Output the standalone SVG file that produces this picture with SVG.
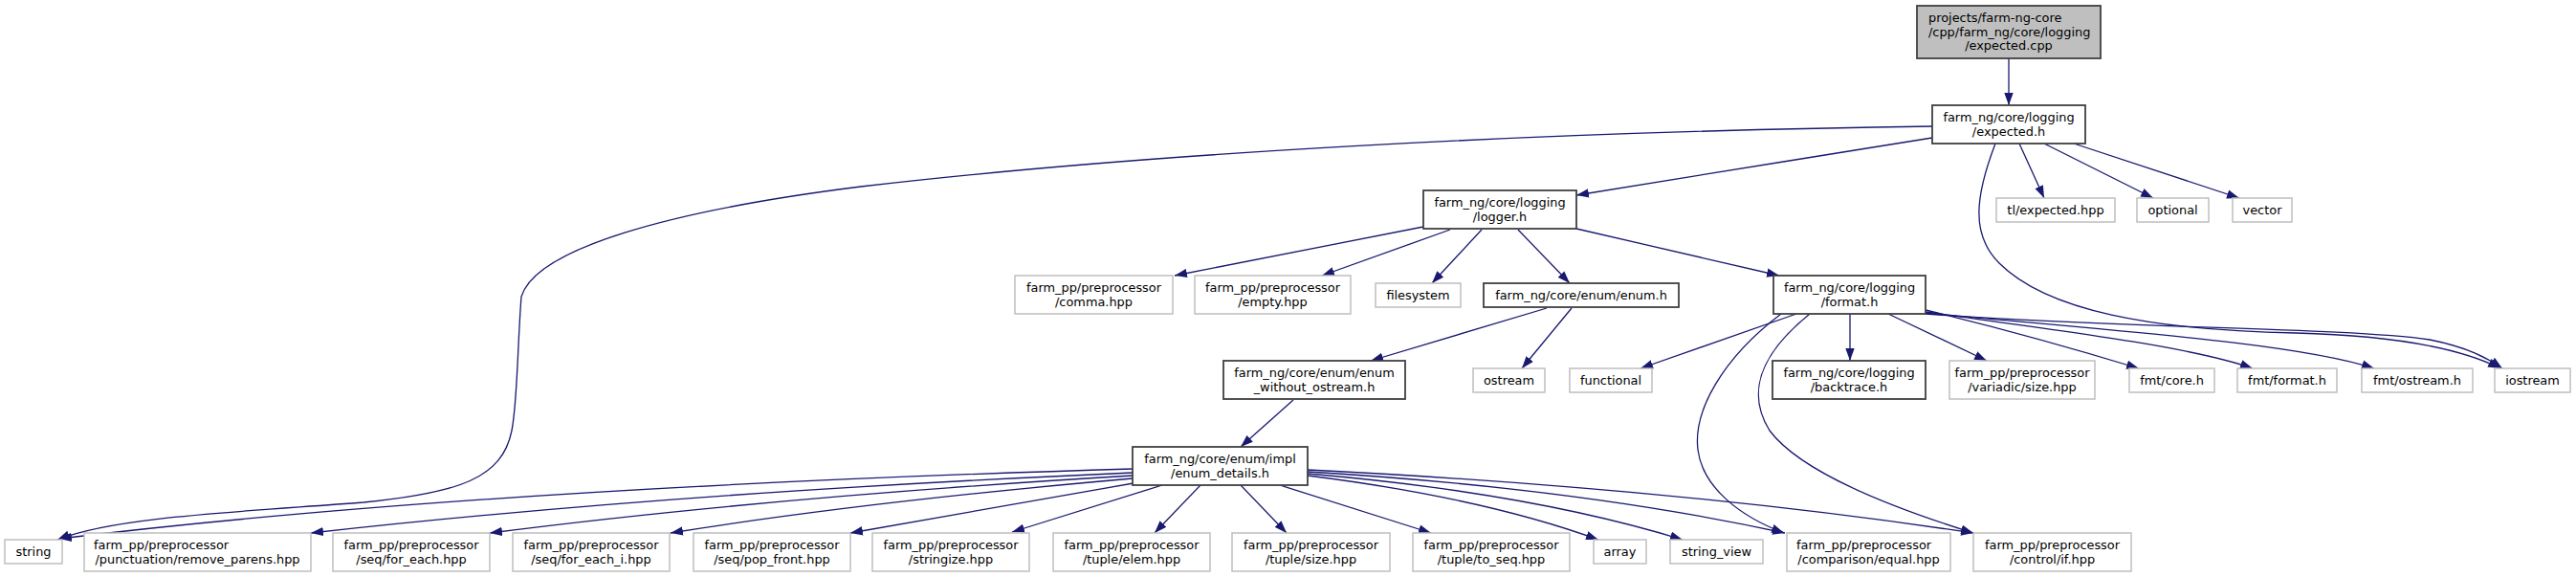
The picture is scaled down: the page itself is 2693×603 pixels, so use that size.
<svg xmlns="http://www.w3.org/2000/svg" width="2693" height="603" viewBox="0 0 2693 603">
<style>
.n rect{fill:#fff;stroke:#404040;stroke-width:1.8}
.x rect{fill:#fff;stroke:#bfbfbf;stroke-width:1.5}
.r rect{fill:#bfbfbf;stroke:#404040;stroke-width:1.8}
text{font-family:"DejaVu Sans",sans-serif;font-size:12.9px;fill:#000;text-anchor:middle}
text.s{text-anchor:start}
.e path{fill:none;stroke:#191970;stroke-width:1.3;marker-end:url(#a)}
</style>
<defs>
<marker id="a" markerUnits="userSpaceOnUse" markerWidth="14" markerHeight="10" refX="13" refY="5" orient="auto">
<path d="M0,0.3L13,5L0,9.7z" fill="#191970"/>
</marker>
</defs>
<rect width="2693" height="603" fill="#fff"/>
<g class="e" id="edges">
<path d="M2100,61L2100,110"/>
<path d="M2020,144C1900,163 1760,186 1648,204"/>
<path d="M2020,132C1600,138 1200,160 900,195C700,220 560,260 545,310C541,360 541,420 535,450C525,500 480,515 380,525C250,535 120,540 60,564"/>
<path d="M2111,150L2137,207"/>
<path d="M2137,150L2251,207"/>
<path d="M2168,150L2341,207"/>
<path d="M2086,150C2065,205 2060,245 2090,275C2140,325 2250,345 2400,348C2520,351 2580,368 2614,385"/>
<path d="M1488,237L1228,288"/>
<path d="M1516,240L1382,288"/>
<path d="M1549,240L1497,296"/>
<path d="M1587,240L1641,296"/>
<path d="M1648,239L1860,288"/>
<path d="M1617,322L1433,377"/>
<path d="M1643,322L1591,385"/>
<path d="M1352,418L1297,467"/>
<path d="M1878,328L1715,385"/>
<path d="M1934,328L1934,377"/>
<path d="M1974,328L2077,377"/>
<path d="M2013,324C2100,345 2180,368 2236,385"/>
<path d="M2013,326C2150,345 2290,362 2355,385"/>
<path d="M2013,327C2200,345 2400,358 2482,385"/>
<path d="M2013,328C2200,343 2450,342 2540,355C2580,363 2600,374 2616,385"/>
<path d="M1862,328C1800,375 1770,430 1775,470C1780,510 1820,540 1865,557"/>
<path d="M1892,328C1840,370 1825,410 1850,450C1880,490 1960,525 2063,557"/>
<path d="M1184,490Q500,510 62,563"/>
<path d="M1184,494Q700,515 325,557"/>
<path d="M1184,497Q800,520 512,557"/>
<path d="M1184,500Q900,525 701,557"/>
<path d="M1185,505L889,557"/>
<path d="M1215,507L1058,556"/>
<path d="M1255,507L1207,557"/>
<path d="M1297,507L1345,557"/>
<path d="M1338,507L1496,557"/>
<path d="M1367,497Q1550,520 1671,564"/>
<path d="M1367,495Q1600,515 1759,564"/>
<path d="M1367,493Q1650,510 1866,557"/>
<path d="M1367,491Q1750,510 2063,557"/>
</g>
<g id="root" class="r"><rect x="2004" y="6" width="192" height="55"/><text class="s" x="2016" y="23">projects/farm-ng-core</text><text class="s" x="2016" y="37.7">/cpp/farm_ng/core/logging</text><text x="2100" y="52.3">/expected.cpp</text></g>
<g id="expected_h" class="n"><rect x="2020" y="110" width="160" height="40"/><text x="2100" y="127">farm_ng/core/logging</text><text x="2100" y="141.7">/expected.h</text></g>
<g id="logger_h" class="n"><rect x="1488" y="199" width="160" height="40"/><text x="1568" y="216">farm_ng/core/logging</text><text x="1568" y="230.7">/logger.h</text></g>
<g id="tl_expected" class="x"><rect x="2087" y="207" width="124" height="25"/><text x="2149" y="224">tl/expected.hpp</text></g>
<g id="optional" class="x"><rect x="2234" y="207" width="75" height="25"/><text x="2271.5" y="224">optional</text></g>
<g id="vector" class="x"><rect x="2334" y="207" width="62" height="25"/><text x="2365" y="224">vector</text></g>
<g id="comma" class="x"><rect x="1061" y="288" width="165" height="40"/><text x="1143.5" y="305">farm_pp/preprocessor</text><text x="1143.5" y="319.7">/comma.hpp</text></g>
<g id="empty" class="x"><rect x="1249" y="288" width="163" height="40"/><text x="1330.5" y="305">farm_pp/preprocessor</text><text x="1330.5" y="319.7">/empty.hpp</text></g>
<g id="filesystem" class="x"><rect x="1438" y="296" width="89" height="25"/><text x="1482.5" y="313">filesystem</text></g>
<g id="enum_h" class="n"><rect x="1551" y="296" width="204" height="25"/><text x="1653" y="313">farm_ng/core/enum/enum.h</text></g>
<g id="format_h" class="n"><rect x="1854" y="288" width="159" height="40"/><text x="1933.5" y="305">farm_ng/core/logging</text><text x="1933.5" y="319.7">/format.h</text></g>
<g id="enum_without_ostream" class="n"><rect x="1279" y="377" width="190" height="40"/><text x="1374" y="394">farm_ng/core/enum/enum</text><text x="1374" y="408.7">_without_ostream.h</text></g>
<g id="ostream" class="x"><rect x="1540" y="385" width="75" height="25"/><text x="1577.5" y="402">ostream</text></g>
<g id="functional" class="x"><rect x="1641" y="385" width="86" height="25"/><text x="1684" y="402">functional</text></g>
<g id="backtrace_h" class="n"><rect x="1853" y="377" width="160" height="40"/><text x="1933" y="394">farm_ng/core/logging</text><text x="1933" y="408.7">/backtrace.h</text></g>
<g id="variadic_size" class="x"><rect x="2038" y="377" width="152" height="40"/><text x="2114" y="394">farm_pp/preprocessor</text><text x="2114" y="408.7">/variadic/size.hpp</text></g>
<g id="fmt_core" class="x"><rect x="2226" y="385" width="89" height="25"/><text x="2270.5" y="402">fmt/core.h</text></g>
<g id="fmt_format" class="x"><rect x="2339" y="385" width="104" height="25"/><text x="2391" y="402">fmt/format.h</text></g>
<g id="fmt_ostream" class="x"><rect x="2469" y="385" width="116" height="25"/><text x="2527" y="402">fmt/ostream.h</text></g>
<g id="iostream" class="x"><rect x="2608" y="385" width="79" height="25"/><text x="2647.5" y="402">iostream</text></g>
<g id="enum_details" class="n"><rect x="1184" y="467" width="183" height="40"/><text x="1275.5" y="484">farm_ng/core/enum/impl</text><text x="1275.5" y="498.7">/enum_details.h</text></g>
<g id="string" class="x"><rect x="5" y="564" width="60" height="25"/><text x="35" y="581">string</text></g>
<g id="remove_parens" class="x"><rect x="88" y="557" width="237" height="40"/><text class="s" x="98" y="574">farm_pp/preprocessor</text><text x="206.5" y="588.7">/punctuation/remove_parens.hpp</text></g>
<g id="for_each" class="x"><rect x="348" y="557" width="164" height="40"/><text x="430" y="574">farm_pp/preprocessor</text><text x="430" y="588.7">/seq/for_each.hpp</text></g>
<g id="for_each_i" class="x"><rect x="536" y="557" width="164" height="40"/><text x="618" y="574">farm_pp/preprocessor</text><text x="618" y="588.7">/seq/for_each_i.hpp</text></g>
<g id="pop_front" class="x"><rect x="725" y="557" width="164" height="40"/><text x="807" y="574">farm_pp/preprocessor</text><text x="807" y="588.7">/seq/pop_front.hpp</text></g>
<g id="stringize" class="x"><rect x="912" y="557" width="164" height="40"/><text x="994" y="574">farm_pp/preprocessor</text><text x="994" y="588.7">/stringize.hpp</text></g>
<g id="tuple_elem" class="x"><rect x="1101" y="557" width="164" height="40"/><text x="1183" y="574">farm_pp/preprocessor</text><text x="1183" y="588.7">/tuple/elem.hpp</text></g>
<g id="tuple_size" class="x"><rect x="1288" y="557" width="165" height="40"/><text x="1370.5" y="574">farm_pp/preprocessor</text><text x="1370.5" y="588.7">/tuple/size.hpp</text></g>
<g id="tuple_to_seq" class="x"><rect x="1477" y="557" width="164" height="40"/><text x="1559" y="574">farm_pp/preprocessor</text><text x="1559" y="588.7">/tuple/to_seq.hpp</text></g>
<g id="array" class="x"><rect x="1666" y="564" width="55" height="25"/><text x="1693.5" y="581">array</text></g>
<g id="string_view" class="x"><rect x="1746" y="564" width="97" height="25"/><text x="1794.5" y="581">string_view</text></g>
<g id="comparison_equal" class="x"><rect x="1868" y="557" width="171" height="40"/><text class="s" x="1878" y="574">farm_pp/preprocessor</text><text x="1953.5" y="588.7">/comparison/equal.hpp</text></g>
<g id="control_if" class="x"><rect x="2063" y="557" width="165" height="40"/><text x="2145.5" y="574">farm_pp/preprocessor</text><text x="2145.5" y="588.7">/control/if.hpp</text></g>
</svg>
